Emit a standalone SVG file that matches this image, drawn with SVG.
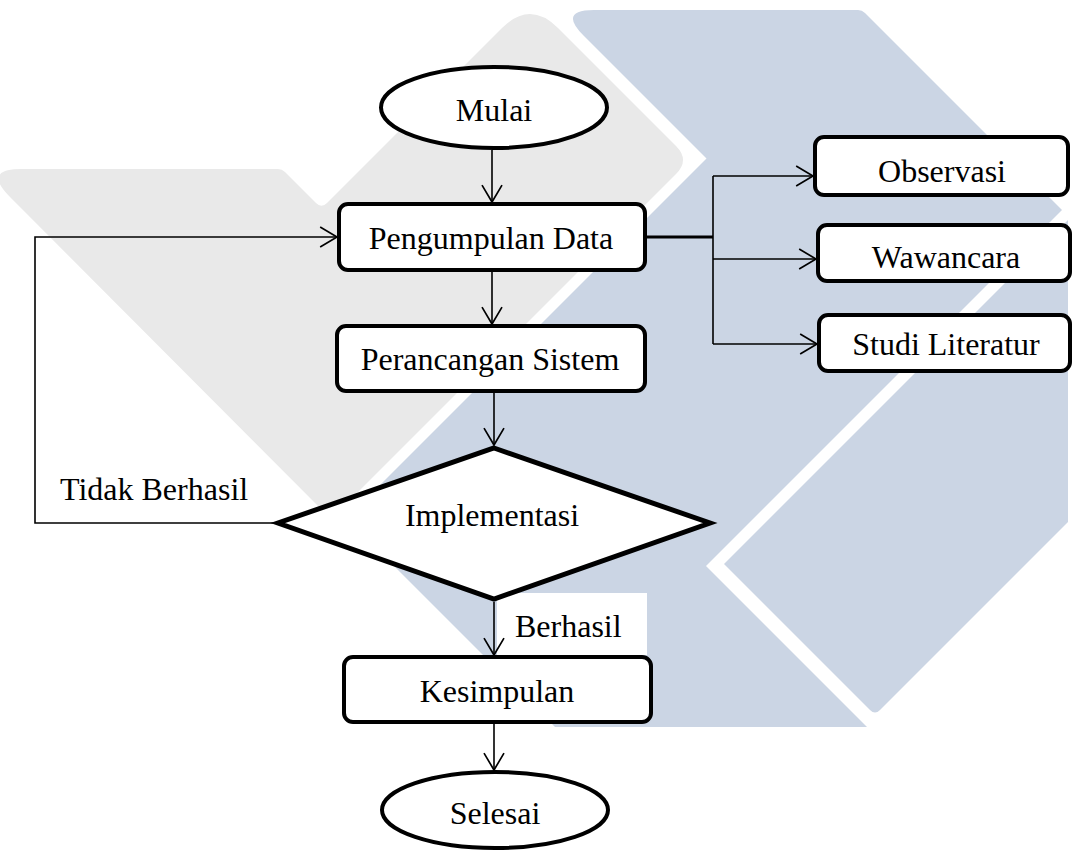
<svg xmlns="http://www.w3.org/2000/svg" width="1073" height="852" viewBox="0 0 1073 852">
<style>
.bg{fill:#ffffff}
.wm-gray{fill:#e9e9e9}
.wm-blue{fill:#cbd5e4}
.node{fill:#ffffff;stroke:#000000;stroke-width:4}
.dia{fill:#ffffff;stroke:#000000;stroke-width:5}
.lbl{font-family:"Liberation Serif","Times New Roman",serif;font-size:32px;fill:#000000}
.mid{text-anchor:middle}
.conn{fill:none;stroke:#000000;stroke-width:1.6}
.thick{fill:none;stroke:#000000;stroke-width:3}
</style>
<defs>
<marker id="arr" markerUnits="userSpaceOnUse" markerWidth="20" markerHeight="24" viewBox="-17 -11 19 22" refX="0" refY="0" orient="auto">
<path d="M-16,-9.5 L0,0 L-16,9.5" fill="none" stroke="#000000" stroke-width="1.6"/>
</marker>
</defs>
<rect class="bg" x="0" y="0" width="1073" height="852"/>
<g id="watermark">
<path class="wm-gray" d="M10,197 Q-18,169 22,169 L278,169 Q282,169 285,172 L316,203 Q321.5,208.5 327,203 L502,28 Q530,0 558,28 L676,146 Q690,160 676,174 L331,519 Z"/>
<path class="wm-blue" d="M594,10 L858,10 Q862,10 865,13 L1062,210 L706,566 L867,727 L555,727 L346.5,518.5 L706.5,158.5 L583.5,35.5 Q558,10 594,10 Z"/>
<path class="wm-blue" d="M724,564 L1068,220 L1068,522 L880,710 Q875,715 870,710 Z"/>
<rect x="497" y="593" width="150" height="62" fill="#ffffff"/>
</g>
<g id="connectors">
<path class="conn" d="M492,150 L492,202" marker-end="url(#arr)"/>
<path class="conn" d="M492,272 L492,324" marker-end="url(#arr)"/>
<path class="conn" d="M494,393 L494,445" marker-end="url(#arr)"/>
<path class="conn" d="M494,602 L494,655" marker-end="url(#arr)"/>
<path class="conn" d="M494,724 L494,770" marker-end="url(#arr)"/>
<path class="conn" d="M278,523 L35,523 L35,237 L337,237" marker-end="url(#arr)"/>
<path class="thick" d="M647,237 L713,237"/>
<path class="conn" d="M713,176 L713,344"/>
<path class="conn" d="M713,176 L813,176" marker-end="url(#arr)"/>
<path class="conn" d="M713,259 L816,259" marker-end="url(#arr)"/>
<path class="conn" d="M713,344 L817,344" marker-end="url(#arr)"/>
<text class="lbl" x="60" y="500">Tidak Berhasil</text>
<text class="lbl" x="515" y="637">Berhasil</text>
</g>
<g id="mulai">
<ellipse class="node" cx="494" cy="107.5" rx="113" ry="40.5"/>
<text class="lbl mid" x="494" y="121">Mulai</text>
</g>
<g id="pengumpulan">
<rect class="node" x="339" y="204" width="306" height="66" rx="9"/>
<text class="lbl mid" x="491" y="249">Pengumpulan Data</text>
</g>
<g id="perancangan">
<rect class="node" x="337" y="326" width="308" height="65" rx="9"/>
<text class="lbl mid" x="490" y="370">Perancangan Sistem</text>
</g>
<g id="implementasi">
<polygon class="dia" points="494,448 710,523 494,599 278,523"/>
<text class="lbl mid" x="492" y="526">Implementasi</text>
</g>
<g id="kesimpulan">
<rect class="node" x="344" y="657" width="307" height="65" rx="9"/>
<text class="lbl mid" x="497" y="702">Kesimpulan</text>
</g>
<g id="selesai">
<ellipse class="node" cx="495" cy="810" rx="113" ry="38"/>
<text class="lbl mid" x="495" y="824">Selesai</text>
</g>
<g id="observasi">
<rect class="node" x="815" y="137" width="253" height="58" rx="9"/>
<text class="lbl mid" x="942" y="182">Observasi</text>
</g>
<g id="wawancara">
<rect class="node" x="818" y="225" width="252" height="56" rx="9"/>
<text class="lbl mid" x="946" y="268">Wawancara</text>
</g>
<g id="studi">
<rect class="node" x="819" y="315" width="251" height="56" rx="9"/>
<text class="lbl mid" x="946" y="355">Studi Literatur</text>
</g>
</svg>
